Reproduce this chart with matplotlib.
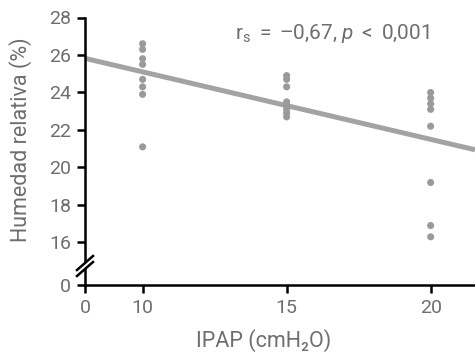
import matplotlib
matplotlib.use("Agg")
import matplotlib.pyplot as plt
import numpy as np
from matplotlib.patches import Polygon
import matplotlib.lines as mlines

# ---- data ----
ipap_levels = [10, 15, 20]
humidity_10 = [26.6, 26.3, 25.8, 25.5, 24.7, 24.3, 23.9, 21.1]
humidity_15 = [24.9, 24.7, 24.3, 23.5, 23.3, 23.1, 22.9, 22.7]
humidity_20 = [24.0, 23.7, 23.4, 23.1, 22.2, 19.2, 16.9, 16.3]
fit_at_10 = 25.1
fit_at_20 = 21.5
y_ticks = [16, 18, 20, 22, 24, 26, 28]
x_ticks = [10, 15, 20]
annotation = r"r$_\mathregular{s}$ $=$ –0,67, $p$ $<$ 0,001"

plt.rcParams['font.family'] = ['Roboto', 'DejaVu Sans']
plt.rcParams['font.weight'] = 'normal'
plt.rcParams['mathtext.fontset'] = 'custom'
plt.rcParams['mathtext.rm'] = 'Roboto'
plt.rcParams['mathtext.it'] = 'Roboto:italic'

text_col = '#6e6e6e'
dot_col = '#9a9a9a'
line_col = '#a3a3a3'

fig = plt.figure(figsize=(4.75, 3.6), dpi=100)
ax = fig.add_axes([85/475, 1 - 285/360, 1 - 85/475, (285 - 17.5)/360])

# broken axes: "0" shown at the left/bottom edge
x_zero_pos = 8.0
x_right = 21.54
y_zero_pos = 13.73
ax.set_xlim(x_zero_pos, x_right)
ax.set_ylim(y_zero_pos, 28)

# regression line across the plot
slope = (fit_at_20 - fit_at_10) / (20 - 10)
xs = np.array([x_zero_pos, x_right])
ax.plot(xs, fit_at_10 + slope * (xs - 10), color=line_col, lw=3.6,
        solid_capstyle='butt', zorder=2, clip_on=False)

for lvl, vals in zip(ipap_levels, [humidity_10, humidity_15, humidity_20]):
    ax.scatter([lvl] * len(vals), vals, s=26, color=dot_col,
               edgecolors='none', zorder=3)

ax.set_yticks([y_zero_pos] + y_ticks)
ax.set_yticklabels(['0'] + [str(t) for t in y_ticks])
ax.set_xticks([x_zero_pos] + x_ticks)
ax.set_xticklabels(['0'] + [str(t) for t in x_ticks])

for s in ['top', 'right']:
    ax.spines[s].set_visible(False)
for s in ['left', 'bottom']:
    ax.spines[s].set_linewidth(1.8)
    ax.spines[s].set_color('black')
    ax.spines[s].set_zorder(4)
ax.tick_params(axis='both', direction='out', length=6, width=1.8,
               color='black', labelcolor=text_col, labelsize=14)
ax.tick_params(axis='y', pad=4)
ax.tick_params(axis='x', pad=4)

ax.set_ylabel('Humedad relativa (%)', fontsize=15.5, color=text_col)
ax.yaxis.set_label_coords(-0.136, 0.542)
ax.set_xlabel('IPAP (cmH₂O)', fontsize=15.5, color=text_col)
ax.xaxis.set_label_coords(0.459, -0.206)
ax.xaxis.label.set_va('center')

ax.text(0.385, 0.942, annotation, transform=ax.transAxes, fontsize=15,
        color=text_col, ha='left', va='center')

# axis break marks
def px(x, y):
    return fig.transFigure.inverted().transform(np.array([x, 360 - y]))
p1a, p1b = (77, 270), (93, 256)
p2a, p2b = (77, 276), (93, 262)
poly = Polygon([px(*p1a), px(*p1b), px(*p2b), px(*p2a)], closed=True,
               transform=fig.transFigure, facecolor='white', edgecolor='none',
               zorder=10)
fig.patches.append(poly)
for a, b in [(p1a, p1b), (p2a, p2b)]:
    pa, pb = px(*a), px(*b)
    fig.lines.append(mlines.Line2D([pa[0], pb[0]], [pa[1], pb[1]],
                                   transform=fig.transFigure, color='black',
                                   lw=1.8, zorder=11))

fig.savefig('out.png', dpi=100)
